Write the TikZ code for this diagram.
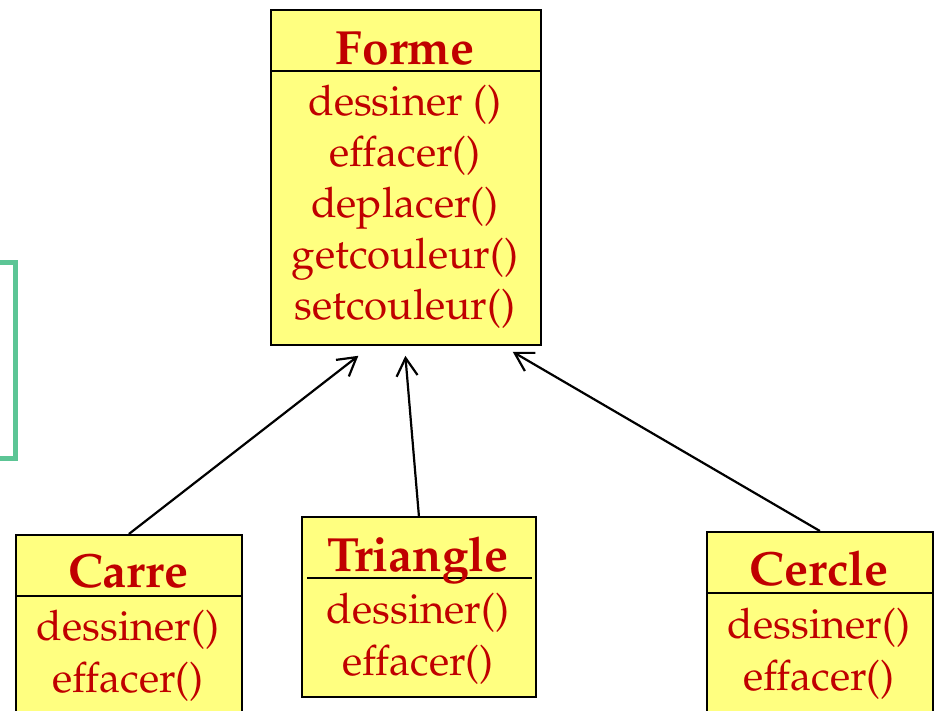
\documentclass[tikz,border=0pt]{standalone}
\usepackage[T1]{fontenc}
\usepackage{mathpazo}
\usetikzlibrary{arrows.meta,calc}

\definecolor{umlfill}{HTML}{FFFF80}
\definecolor{umltext}{HTML}{C00000}
\definecolor{bracketgreen}{HTML}{5CC595}

\tikzset{
  classbox/.style={draw=black, line width=1.8pt, fill=umlfill, inner sep=0pt,
                   anchor=north west},
  classname/.style={text=umltext, inner sep=0pt, anchor=base,
                    font=\fontsize{48}{52}\selectfont\bfseries},
  classop/.style={text=umltext, inner sep=0pt, anchor=base,
                  font=\fontsize{42}{50}\selectfont},
  divider/.style={draw=black, line width=1.8pt},
  inherit/.style={draw=black, line width=2.2pt,
                  -{Straight Barb[length=18pt,width=21pt,line width=2.2pt]}},
  sidebracket/.style={draw=bracketgreen, line width=5pt, line join=miter}
}

\begin{document}
\begin{tikzpicture}[x=1pt,y=-1pt]
  \useasboundingbox (0,0) rectangle (935,711);
  \clip (0,0) rectangle (935,711);

  % bracket on the left edge
  \draw[sidebracket] (0,263) -- (15,263) -- (15,458) -- (0,458);

  % parent class
  \node[classbox, minimum width=270pt, minimum height=335pt] (forme) at (270,9) {};
  \draw[divider] (270,71) -- (540,71);
  \node[classname] (formeT) at (405,65) {Forme};
  \node[classop] (forme1) at (405,116) {dessiner ()};
  \node[classop] (forme2) at (405,167) {effacer()};
  \node[classop] (forme3) at (405,218) {deplacer()};
  \node[classop] (forme4) at (405,269) {getcouleur()};
  \node[classop] (forme5) at (405,320) {setcouleur()};

  % subclasses
  \node[classbox, minimum width=226pt, minimum height=200pt] (carre) at (15,534) {};
  \draw[divider] (15,596) -- (241,596);
  \node[classname] (carreT) at (128,587) {Carre};
  \node[classop] (carre1) at (128,640) {dessiner()};
  \node[classop] (carre2) at (128,692) {effacer()};

  \node[classbox, minimum width=234pt, minimum height=180pt] (triangle) at (301,516) {};
  \draw[divider] (307,578) -- (532,578);
  \node[classname] (triangleT) at (418,571) {Triangle};
  \node[classop] (triangle1) at (418,623) {dessiner()};
  \node[classop] (triangle2) at (418,675) {effacer()};

  \node[classbox, minimum width=226pt, minimum height=200pt] (cercle) at (706,531) {};
  \draw[divider] (706,593) -- (932,593);
  \node[classname] (cercleT) at (819,585) {Cercle};
  \node[classop] (cercle1) at (819,638) {dessiner()};
  \node[classop] (cercle2) at (819,690) {effacer()};

  % inheritance arrows
  \draw[inherit] (carre.north) -- ($(forme.south west)!0.325!(forme.south east)+(0,10)$);
  \draw[inherit] (triangle.north) -- ($(forme.south west)!0.498!(forme.south east)+(0,10)$);
  \draw[inherit] (cercle.north) -- ($(forme.south west)!0.893!(forme.south east)+(0,6)$);
\end{tikzpicture}
\end{document}
